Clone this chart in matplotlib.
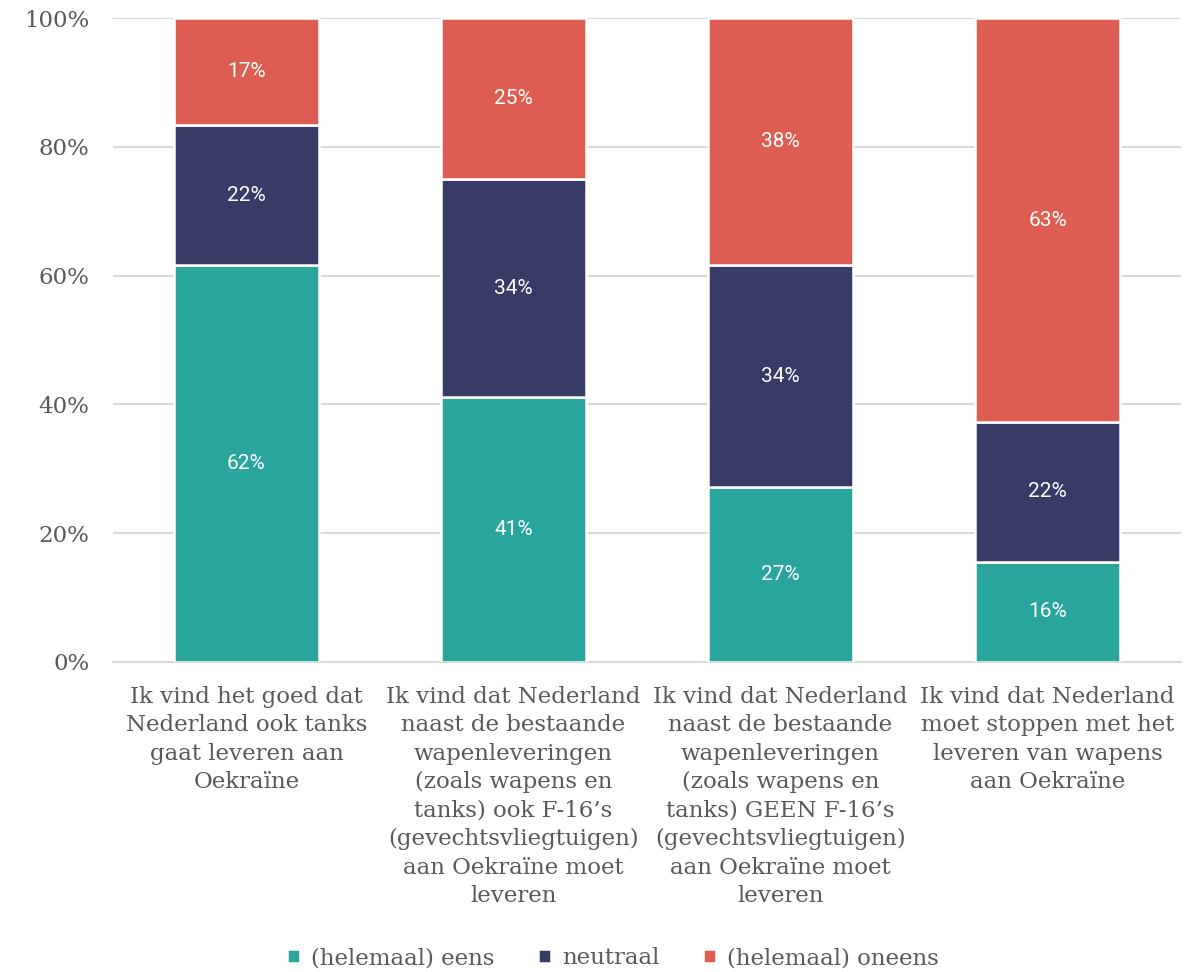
import matplotlib
matplotlib.use("Agg")
import matplotlib.pyplot as plt
import numpy as np

categories = [
    "Ik vind het goed dat\nNederland ook tanks\ngaat leveren aan\nOekraïne",
    "Ik vind dat Nederland\nnaast de bestaande\nwapenleveringen\n(zoals wapens en\ntanks) ook F-16\u2019s\n(gevechtsvliegtuigen)\naan Oekraïne moet\nleveren",
    "Ik vind dat Nederland\nnaast de bestaande\nwapenleveringen\n(zoals wapens en\ntanks) GEEN F-16\u2019s\n(gevechtsvliegtuigen)\naan Oekraïne moet\nleveren",
    "Ik vind dat Nederland\nmoet stoppen met het\nleveren van wapens\naan Oekraïne",
]
series_names = ["(helemaal) eens", "neutraal", "(helemaal) oneens"]
eens = [61.6, 41.1, 27.2, 15.6]
neutraal = [21.8, 33.9, 34.4, 21.6]
oneens = [16.6, 25.0, 38.4, 62.8]
yticks = [0, 20, 40, 60, 80, 100]
colors = ["#2AA59B", "#383B66", "#DE5D52"]

serif = ["DejaVu Serif"]
sans = ["Roboto", "DejaVu Sans"]
grey = "#595959"

fig = plt.figure(figsize=(11.9, 9.72), dpi=100)
ax = fig.add_axes([113/1190, 1 - 662/972, (1181-113)/1190, (662-18)/972])

x = np.arange(len(categories))
bottom = np.zeros(len(categories))
for vals, col, name in zip([eens, neutraal, oneens], colors, series_names):
    vals = np.array(vals)
    ax.bar(x, vals, width=0.543, bottom=bottom, color=col, edgecolor="white",
           linewidth=1.8, label=name, zorder=3)
    for xi, b, v in zip(x, bottom, vals):
        ax.text(xi, b + v / 2, f"{v:.0f}%", ha="center", va="center", color="white",
                fontsize=15, family=sans, zorder=4)
    bottom += vals

ax.set_xlim(-0.5, len(categories) - 0.5)
ax.set_ylim(0, 100)
ax.set_yticks(yticks)
ax.set_yticklabels([f"{t}%" for t in yticks], family=serif, fontsize=16.5, color=grey)
ax.set_xticks(x)
ax.set_xticklabels(categories, family=serif, fontsize=16.5, color=grey, linespacing=1.38)
ax.tick_params(axis="both", length=0)
ax.tick_params(axis="y", pad=17)
ax.tick_params(axis="x", pad=17)
ax.grid(axis="y", color="#D9D9D9", linewidth=1.5, zorder=0)
ax.set_axisbelow(True)
for s in ["top", "right", "left"]:
    ax.spines[s].set_visible(False)
ax.spines["bottom"].set_color("#D9D9D9")
ax.spines["bottom"].set_linewidth(1.5)

leg = fig.legend(loc="center", bbox_to_anchor=(0.515, 1 - 958/972), ncol=3, frameon=False,
                 prop={"family": serif, "size": 16.5}, handlelength=0.55, handleheight=0.55,
                 handletextpad=0.5, columnspacing=1.9)
for t in leg.get_texts():
    t.set_color(grey)

fig.savefig("out.png", dpi=100)
